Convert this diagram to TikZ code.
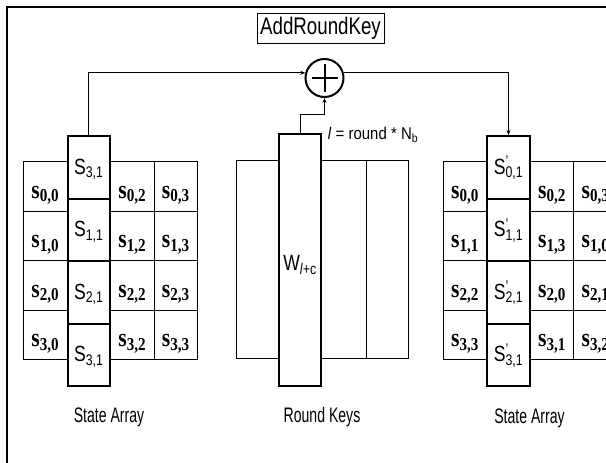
\documentclass[tikz,border=0pt]{standalone}
\usepackage{fontspec}
\usepackage{graphicx}
\setmainfont{Liberation Sans}
\newfontfamily\cellfont{Liberation Serif}
\usetikzlibrary{arrows.meta}

% narrow glyphs, the labels are set condensed
\newcommand{\narrow}[2][0.8]{\scalebox{#1}[1]{#2}}
\newcommand{\sval}[2]{\narrow[0.83]{\cellfont\bfseries s\textsubscript{#1,#2}}}
\newcommand{\Sval}[2]{\narrow{S\textsubscript{#1,#2}}}
\newcommand{\Sprime}[2]{\narrow{S\rlap{\textsuperscript{'}}\textsubscript{#1,#2}}}

\begin{document}
\begin{tikzpicture}[
  x=1pt, y=-1pt,
  every node/.style={inner sep=0pt, font=\fontsize{22}{24}\selectfont},
  gridcell/.style={draw, line width=0.8pt, minimum width=43.5pt, minimum height=49.5pt,
    font=\fontsize{26}{28}\selectfont, text height=24pt, text depth=0pt},
  colcell/.style={draw, line width=2pt, fill=white, minimum width=42.5pt, minimum height=62.5pt,
    text height=14pt, text depth=0pt},
  keycol/.style={draw, line width=0.8pt, minimum height=198pt},
  caption/.style={font=\fontsize{21}{24}\selectfont},
  arr/.style={-{Stealth[length=5pt, width=4pt]}, line width=0.8pt}
]
  \useasboundingbox (0,0) rectangle (606,463);
  \draw[line width=2pt] (7,7) rectangle (650,500);

  % state before the key is added
  \foreach \r in {0,...,3} {
    \node[gridcell] (l\r0) at (45.25, 186.25+49.5*\r) {\sval{\r}{0}};
    \node[gridcell] (l\r2) at (132.25, 186.25+49.5*\r) {\sval{\r}{2}};
    \node[gridcell] (l\r3) at (175.75, 186.25+49.5*\r) {\sval{\r}{3}};
  }
  \foreach \r/\i in {0/3, 1/1, 2/2, 3/3}
    \node[colcell] (lc\r) at (88.75, 167.25+62.5*\r) {\Sval{\i}{1}};

  % round key words
  \node[keycol, minimum width=43pt] (k0) at (257.5,259) {};
  \node[keycol, minimum width=45pt] (k2) at (343.5,259) {};
  \node[keycol, minimum width=42pt] (k3) at (387,259) {};
  \node[colcell, minimum width=42pt, minimum height=252pt, text height=20pt] (wcol) at (300,260)
    {\narrow{W\textsubscript{\textit{l}+c}}};
  \node[font=\fontsize{17}{19}\selectfont] (rlbl) at (373,135)
    {\narrow[0.88]{\textit{l} = round * N\textsubscript{b}}};

  % state after the key is added
  \foreach \r/\p/\q/\u in {0/0/2/3, 1/1/3/0, 2/2/0/1, 3/3/1/2} {
    \node[gridcell] (r\r0) at (465, 186.25+49.5*\r) {\sval{\r}{\p}};
    \node[gridcell] (r\r2) at (552, 186.25+49.5*\r) {\sval{\r}{\q}};
    \node[gridcell] (r\r3) at (595.5, 186.25+49.5*\r) {\sval{\r}{\u}};
  }
  \foreach \r in {0,...,3}
    \node[colcell] (rc\r) at (508.5, 167.25+62.5*\r) {\Sprime{\r}{1}};

  % xor and title
  \node[draw, line width=0.8pt, minimum width=127pt, minimum height=30pt,
    font=\fontsize{24}{26}\selectfont] (ark) at (320.5,28) {\narrow[0.78]{AddRoundKey}};
  \node[circle, draw, line width=2pt, minimum size=38pt] (xor) at (324.5,78) {};
  \draw[line width=2pt] ([xshift=-13pt]xor.center) -- ([xshift=13pt]xor.center)
    ([yshift=14pt]xor.center) -- ([yshift=-14pt]xor.center);

  \draw[arr] (lc0.north) |- (xor.165);
  \draw[arr] (wcol.north) -- ++(0,-19) -| (xor.south);
  \draw[arr] (xor.15) -| (rc0.north);

  \node[caption] (capl) at (109,417) {\narrow[0.67]{State Array}};
  \node[caption] (capm) at (322,417) {\narrow[0.67]{Round Keys}};
  \node[caption] (capr) at (529.5,418) {\narrow[0.67]{State Array}};
\end{tikzpicture}
\end{document}
